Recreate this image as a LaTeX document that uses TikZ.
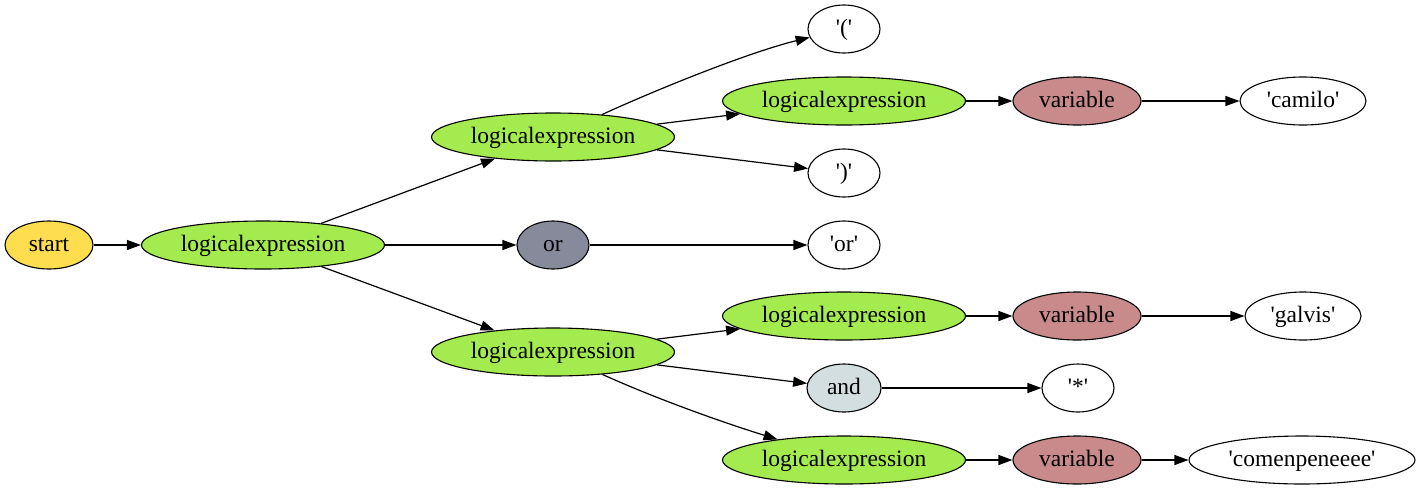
\documentclass[tikz,border=0pt]{standalone}
\usepackage{fontspec}
\setmainfont{Liberation Serif}[Ligatures=TeXOff]
\usetikzlibrary{shapes.geometric,arrows.meta}
\definecolor{startc}{HTML}{FEDD4E}
\definecolor{lec}{HTML}{A3EB4F}
\definecolor{orc}{HTML}{878A9B}
\definecolor{varc}{HTML}{C88A8B}
\definecolor{andc}{HTML}{D3DEE0}
\tikzset{
  nd/.style={ellipse, draw=black, line width=1.1pt, inner sep=0pt, minimum height=48pt,
    text height=17pt, text depth=5pt,
    font=\fontsize{23.5}{26}\selectfont},
  lenode/.style={nd, fill=lec, minimum width=243pt},
  varnode/.style={nd, fill=varc, minimum width=128pt},
  termnode/.style={nd, fill=white},
  edge/.style={line width=1.2pt, -{Triangle[length=14pt,width=10pt]}}
}
\begin{document}
\begin{tikzpicture}[x=1pt,y=-1pt]
\useasboundingbox (0,0) rectangle (1421,491);
\node[nd, fill=startc, minimum width=88pt] (start) at (49,245) {start};
\node[lenode] (le0) at (263,245) {logicalexpression};
\node[lenode] (le1) at (553,137) {logicalexpression};
\node[nd, fill=orc, minimum width=72pt] (or) at (553,245) {or};
\node[lenode] (le2) at (553,352) {logicalexpression};
\node[termnode, minimum width=72pt] (lp) at (844,29) {'('};
\node[lenode] (le3) at (844,101) {logicalexpression};
\node[termnode, minimum width=72pt] (rp) at (844,173) {')'};
\node[termnode, minimum width=72pt] (orlit) at (844,245) {'or'};
\node[lenode] (le4) at (844,316) {logicalexpression};
\node[nd, fill=andc, minimum width=74pt] (and) at (844,388) {and};
\node[lenode] (le5) at (844,460) {logicalexpression};
\node[varnode] (v1) at (1077,101) {variable};
\node[termnode, minimum width=126pt] (camilo) at (1303,101) {'camilo'};
\node[varnode] (v2) at (1077,316) {variable};
\node[termnode, minimum width=116pt] (galvis) at (1303,316) {'galvis'};
\node[termnode, minimum width=72pt] (star) at (1078,388) {'*'};
\node[varnode] (v3) at (1077,460) {variable};
\node[termnode, minimum width=226pt] (comen) at (1302,460) {'comenpeneeee'};

\draw[edge] (start) -- (le0);
\draw[edge] (le0) -- (le1);
\draw[edge] (le0) -- (or);
\draw[edge] (le0) -- (le2);
\draw[edge] (le1) .. controls (660,88) and (750,52) .. (lp);
\draw[edge] (le1) -- (le3);
\draw[edge] (le1) -- (rp);
\draw[edge] (or) -- (orlit);
\draw[edge] (le2) -- (le4);
\draw[edge] (le2) -- (and);
\draw[edge] (le2) .. controls (650,396) and (715,420) .. (le5);
\draw[edge] (le3) -- (v1);
\draw[edge] (v1) -- (camilo);
\draw[edge] (le4) -- (v2);
\draw[edge] (v2) -- (galvis);
\draw[edge] (and) -- (star);
\draw[edge] (le5) -- (v3);
\draw[edge] (v3) -- (comen);
\end{tikzpicture}
\end{document}
